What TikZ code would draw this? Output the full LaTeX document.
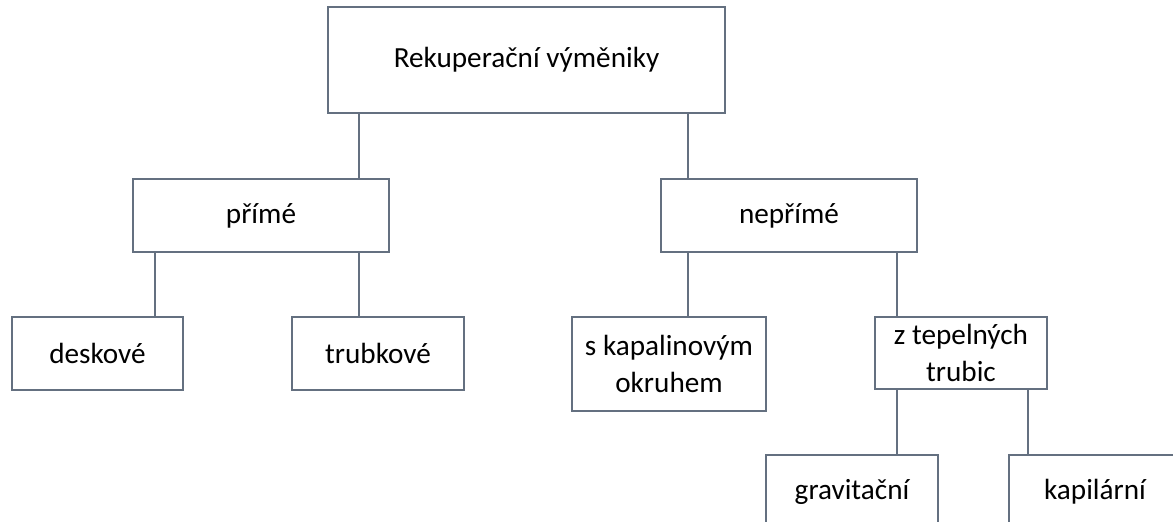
\documentclass[tikz,border=0pt]{standalone}
\usepackage{fontspec}
\setmainfont{Carlito}
\definecolor{boxgray}{RGB}{100, 112, 128}

\begin{document}
\begin{tikzpicture}[x=0.5pt, y=-0.5pt, font=\fontsize{14.6}{18.5}\selectfont,
    box/.style={draw=boxgray, line width=0.65pt, fill=white, inner sep=0pt, align=center},
    link/.style={draw=boxgray, line width=0.55pt}]
      \def\bw{86pt}
      \def\bh{36.5pt}
      \useasboundingbox (0,0) rectangle (1173,521);
      \clip (0,0) rectangle (1173,521);

      % top level
      \node[box, minimum width=198.5pt, minimum height=53pt] (rek) at (526.5,60) {Rekuperační výměniky};

      % second level
      \foreach \n/\x/\t in {prime/261/přímé, neprime/789/nepřímé}
        \node[box, minimum width=128pt, minimum height=\bh] (\n) at (\x,215.5) {\t};

      % third level
      \node[box, minimum width=85.5pt, minimum height=\bh] (desk) at (97.5,353.5) {deskové};
      \node[box, minimum width=\bw, minimum height=\bh] (trub) at (378,353.5) {trubkové};
      \node[box, minimum width=97pt, minimum height=47pt] (skap) at (669,364) {s kapalinovým\\okruhem};
      \node[box, minimum width=\bw, minimum height=36pt] (ztep) at (961,353) {z tepelných\\trubic};

      % fourth level (cut off at the bottom)
      \foreach \n/\x/\t in {grav/852/gravitační, kap/1095/kapilární}
        \node[box, minimum width=\bw, minimum height=\bh] (\n) at (\x,491.5) {\t};

      % vertical links parent -> child
      \foreach \a/\b/\x in {rek/prime/359, rek/neprime/688, prime/desk/155, prime/trub/359,
                            neprime/skap/688, neprime/ztep/897, ztep/grav/897, ztep/kap/1028}
        \draw[link] (\x,0 |- \a.south) -- (\x,0 |- \b.north);
    \end{tikzpicture}
\end{document}
